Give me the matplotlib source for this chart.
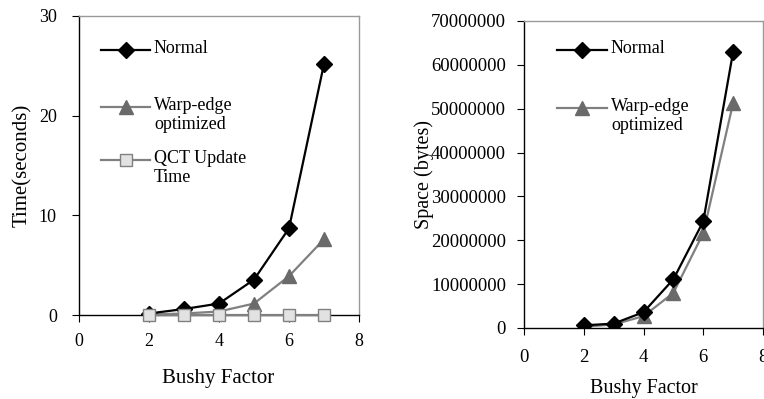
import numpy as np
import matplotlib.pyplot as plt

plt.rcParams['font.family'] = ['Liberation Serif', 'DejaVu Serif']

bushy = [2, 3, 4, 5, 6, 7]
time_normal = [0.15, 0.6, 1.15, 3.55, 8.7, 25.2]
time_warp = [0.05, 0.15, 0.35, 1.15, 3.9, 7.6]
time_qct = [0.0, 0.0, 0.0, 0.0, 0.0, 0.0]
space_normal = [600000, 1000000, 3600000, 11100000, 24300000, 63000000]
space_warp = [300000, 800000, 2700000, 8000000, 21600000, 51300000]

W, H = 764, 399
fig = plt.figure(figsize=(W / 100, H / 100), dpi=100)
ax1 = fig.add_axes([79 / W, 1 - 315 / H, 280 / W, 299 / H])
ax2 = fig.add_axes([524 / W, 1 - 328 / H, 239 / W, 307 / H])

for ax in (ax1, ax2):
    for s in ('top', 'right'):
        ax.spines[s].set_color('#999999')
        ax.spines[s].set_linewidth(1.0)
    for s in ('left', 'bottom'):
        ax.spines[s].set_color('black')
        ax.spines[s].set_linewidth(1.0)
    ax.tick_params(direction='out', length=5, width=0.8)
    ax.set_xlim(0, 8)
    ax.set_xticks([0, 2, 4, 6, 8])

styles = {
    'normal': dict(color='black', lw=1.6, marker='D', ms=8, mfc='black', mec='black'),
    'warp': dict(color='#808080', lw=1.6, marker='^', ms=10, mfc='#6a6a6a', mec='#6a6a6a'),
    'qct': dict(color='#808080', lw=1.6, marker='s', ms=8, mfc='#e2e2e2', mec='#808080'),
}


def legend_entry(ax, y, x0, x1, xt, style, label, fs):
    # y in pixels from figure top, x in pixels from left
    ax.plot([x0 / W, x1 / W], [1 - y / H] * 2, transform=fig.transFigure,
            clip_on=False, **{k: v for k, v in style.items() if k not in ('marker',)})
    ax.plot([(x0 + x1) / 2 / W], [1 - y / H], transform=fig.transFigure,
            clip_on=False, ls='none', **{k: v for k, v in style.items() if k not in ('lw',)})
    fig.text(xt / W, 1 - (y - 10) / H, label, fontsize=fs, va='top', ha='left',
             linespacing=1.15)


# left: time
ax1.plot(bushy, time_normal, zorder=3, **styles['normal'])
ax1.plot(bushy, time_warp, zorder=2, **styles['warp'])
ax1.plot(bushy, time_qct, zorder=4, clip_on=False, **styles['qct'])
ax1.set_ylim(0, 30)
ax1.set_yticks([0, 10, 20, 30])
ax1.tick_params(axis='x', labelsize=13, pad=8)
ax1.tick_params(axis='y', labelsize=13, pad=11)
ax1.set_xlabel('Bushy Factor', fontsize=15)
ax1.set_ylabel('Time(seconds)', fontsize=15)
ax1.xaxis.set_label_coords(0.498, -0.179)
ax1.yaxis.set_label_coords(-0.168, 0.5)

legend_entry(ax1, 50, 101, 150, 154, styles['normal'], 'Normal', 13)
legend_entry(ax1, 107, 101, 150, 154, styles['warp'], 'Warp-edge\noptimized', 13)
legend_entry(ax1, 160, 101, 150, 154, styles['qct'], 'QCT Update\nTime', 13)

# right: space
ax2.plot(bushy, space_normal, zorder=3, **styles['normal'])
ax2.plot(bushy, space_warp, zorder=2, **styles['warp'])
ax2.set_ylim(0, 70000000)
ax2.set_yticks(np.arange(0, 70000001, 10000000))
ax2.set_yticklabels([str(v) for v in range(0, 70000001, 10000000)])
ax2.tick_params(axis='x', labelsize=13.5, pad=10)
ax2.tick_params(axis='y', labelsize=13.5, pad=8)
ax2.set_xlabel('Bushy Factor', fontsize=14.5)
ax2.set_ylabel('Space (bytes)', fontsize=14.5)
ax2.xaxis.set_label_coords(0.5, -0.166)
ax2.yaxis.set_label_coords(-0.375, 0.5)

legend_entry(ax2, 50, 557, 607, 611, styles['normal'], 'Normal', 13)
legend_entry(ax2, 108, 557, 607, 611, styles['warp'], 'Warp-edge\noptimized', 13)

fig.savefig('out.png', dpi=100)
